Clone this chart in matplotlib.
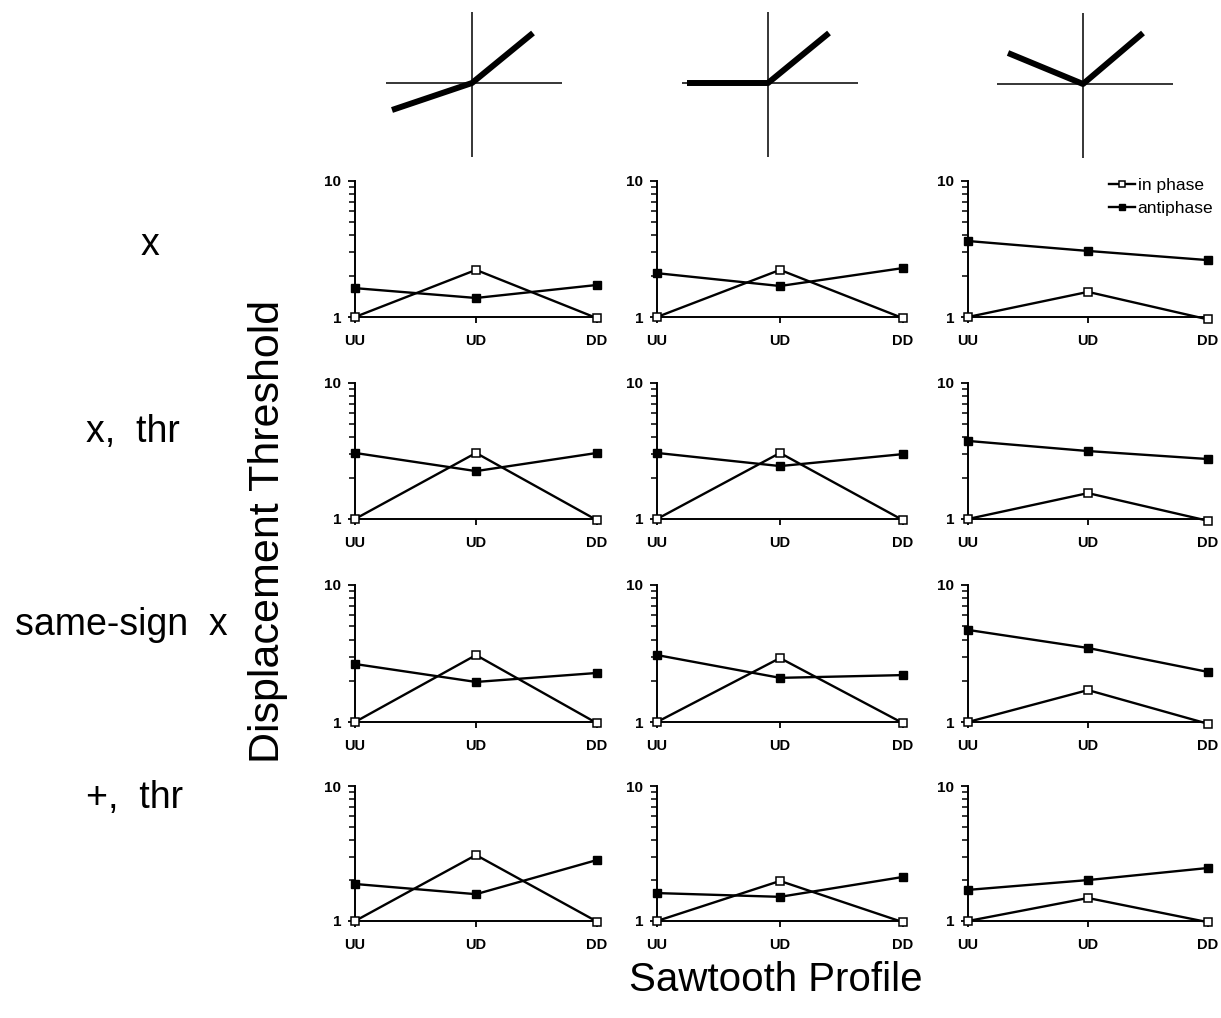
import numpy as np
import matplotlib
matplotlib.use("Agg")
import matplotlib.pyplot as plt
from matplotlib.ticker import FixedLocator, NullFormatter

plt.rcParams["font.family"] = ["Liberation Sans", "DejaVu Sans"]

profiles = ["UU", "UD", "DD"]
row_labels = ["x", "x,  thr", "same-sign  x", "+,  thr"]

# in phase / antiphase thresholds, rows = nonlinearity, cols = response function
in_phase = [
    [[1.0, 2.22, 0.98], [1.0, 2.22, 0.98], [1.0, 1.53, 0.96]],
    [[1.0, 3.06, 0.98], [1.0, 3.06, 0.98], [1.0, 1.55, 0.97]],
    [[1.0, 3.08, 0.98], [1.0, 2.93, 0.98], [1.0, 1.71, 0.97]],
    [[1.0, 3.08, 0.99], [1.0, 1.98, 0.98], [1.0, 1.48, 0.98]],
]
antiphase = [
    [[1.63, 1.38, 1.72], [2.10, 1.69, 2.29], [3.62, 3.06, 2.62]],
    [[3.06, 2.25, 3.06], [3.06, 2.45, 3.00], [3.75, 3.16, 2.76]],
    [[2.65, 1.96, 2.28], [3.08, 2.10, 2.20], [4.70, 3.47, 2.32]],
    [[1.88, 1.58, 2.83], [1.61, 1.51, 2.12], [1.70, 2.01, 2.47]],
]

# response-function icons: end points of the left and right arms
icon_left_x = [-80, -81, -75]
icon_left_y = [-27, 0, 31]
icon_right_x = [61, 61, 60]
icon_right_y = [50, 50, 51]

W, H = 1221, 1018
fig = plt.figure(figsize=(W / 100, H / 100), dpi=100)


def box(x0, y0, x1, y1):
    # pixel box (top-left origin) -> figure fraction rect
    return [x0 / W, 1 - y1 / H, (x1 - x0) / W, (y1 - y0) / H]


col_px = [(355, 597), (657, 903), (968, 1208)]
row_px = [(181, 317), (383, 519), (585, 722), (786, 921)]
icon_ctr = [(472, 83), (768, 83), (1083, 84)]

# icons
for c in range(3):
    cx, cy = icon_ctr[c]
    ax = fig.add_axes(box(cx - 86, cy - 71, cx + 90, cy + 74))
    ax.set_xlim(-86, 90)
    ax.set_ylim(-74, 71)
    ax.axis("off")
    ax.axhline(0, color="black", lw=1.1)
    ax.axvline(0, color="black", lw=1.1)
    ax.plot([icon_left_x[c], 0, icon_right_x[c]],
            [icon_left_y[c], 0, icon_right_y[c]],
            color="black", lw=4.3, solid_capstyle="butt", solid_joinstyle="round")

xs = np.arange(3)
for r in range(4):
    for c in range(3):
        x0, x1 = col_px[c]
        y0, y1 = row_px[r]
        ax = fig.add_axes(box(x0, y0, x1, y1))
        ax.set_yscale("log")
        ax.set_xlim(0, 2)
        ax.set_ylim(1, 10)
        ax.plot(xs, in_phase[r][c], color="black", lw=1.7, marker="s", ms=6,
                mfc="white", mec="black", mew=1.1, clip_on=False, zorder=3,
                label="in phase")
        ax.plot(xs, antiphase[r][c], color="black", lw=1.7, marker="s", ms=6,
                mfc="black", mec="black", clip_on=False, zorder=3,
                label="antiphase")
        for s in ["top", "right"]:
            ax.spines[s].set_visible(False)
        ax.spines["left"].set_linewidth(1.4)
        ax.spines["bottom"].set_linewidth(1.4)
        ax.yaxis.set_major_locator(FixedLocator([1, 10]))
        ax.set_yticklabels(["1", "10"])
        ax.yaxis.set_minor_locator(FixedLocator(np.arange(2, 10)))
        ax.yaxis.set_minor_formatter(NullFormatter())
        ax.tick_params(axis="y", which="major", length=5, width=1.3, pad=5,
                       labelsize=11)
        ax.tick_params(axis="y", which="minor", length=4, width=1.1)
        ax.set_xticks(xs)
        ax.set_xticklabels(profiles, fontsize=10.5, fontweight="bold")
        ax.tick_params(axis="x", length=4, width=1.3, pad=8)
        for t in ax.get_yticklabels():
            t.set_fontweight("bold")
        if r == 0 and c == 2:
            ax.legend(loc="upper left", bbox_to_anchor=(1109 / W, 1 - 178 / H),
                      bbox_transform=fig.transFigure, frameon=False,
                      fontsize=12.5, handlelength=1.5, handletextpad=0.15,
                      labelspacing=0.45, borderpad=0, borderaxespad=0,
                      markerscale=0.8)

label_pos = [(150, 245), (133, 432), (121, 625), (135, 798)]
for lab, (px, py) in zip(row_labels, label_pos):
    fig.text(px / W, 1 - py / H, lab, fontsize=27, ha="center", va="center")

fig.text(268 / W, 1 - 531 / H, "Displacement Threshold", fontsize=31,
         rotation=90, ha="center", va="center")
fig.text(776 / W, 1 - 980 / H, "Sawtooth Profile", fontsize=29,
         ha="center", va="center")

fig.savefig("out.png", dpi=100)
